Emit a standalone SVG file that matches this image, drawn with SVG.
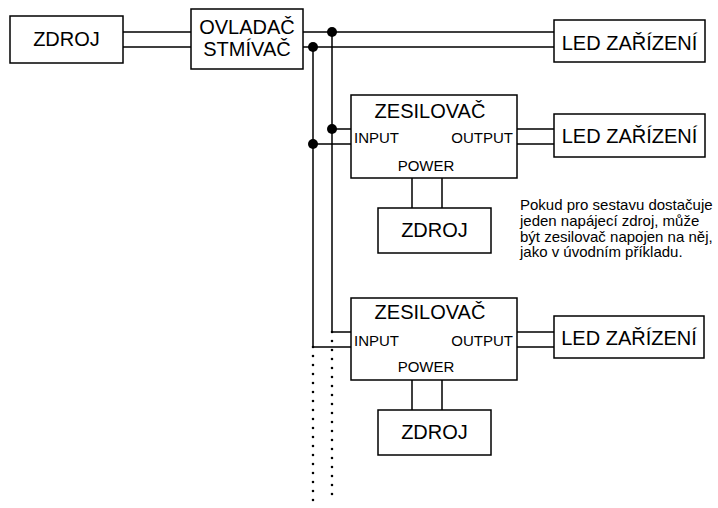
<svg xmlns="http://www.w3.org/2000/svg" width="718" height="508" viewBox="0 0 718 508">
<style>
.box{fill:#fff;stroke:#000;stroke-width:1.5}
.w{fill:none;stroke:#000;stroke-width:1.5}
.dot{fill:#000}
.dt{fill:none;stroke:#000;stroke-width:2.6;stroke-linecap:round;stroke-dasharray:0 9}
text{font-family:"Liberation Sans",Arial,sans-serif;fill:#000}
.big{font-size:20px;text-anchor:middle}
.sm{font-size:15px}
.note{font-size:15px}
</style>
<g id="connectors">
<path class="w" d="M123 32H191M123 47H191M303 32H554M303 47H554"/>
<path class="w" d="M332 32V332H351M313 47V347H351"/>
<path class="w" d="M332 129H351M313 144H351M517 129H554M517 144H554"/>
<path class="w" d="M517 332H554M517 347H554"/>
<path class="w" d="M412 178V208M442 178V208M412 380V410M442 380V410"/>
<circle class="dot" cx="332" cy="32" r="5"/>
<circle class="dot" cx="313" cy="47" r="5"/>
<circle class="dot" cx="332" cy="129" r="5"/>
<circle class="dot" cx="313" cy="144" r="5"/>
<path class="dt" d="M332 332V496M313 347V505"/>
</g>
<g id="zdroj1"><rect class="box" x="10" y="16" width="113" height="47"/><text class="big" x="66.5" y="46">ZDROJ</text></g>
<g id="ovladac"><rect class="box" x="191" y="9" width="112" height="60"/><text class="big" x="247" y="34">OVLADAČ</text><text class="big" x="247" y="56">STMÍVAČ</text></g>
<g id="led1"><rect class="box" x="554" y="20" width="151" height="42"/><text class="big" x="629.5" y="50">LED ZAŘÍZENÍ</text></g>
<g id="zesilovac1"><rect class="box" x="351" y="95" width="166" height="83"/><text class="big" x="430" y="118">ZESILOVAČ</text><text class="sm" x="354" y="143">INPUT</text><text class="sm" x="513" y="143" text-anchor="end">OUTPUT</text><text class="sm" x="426" y="171" text-anchor="middle">POWER</text></g>
<g id="led2"><rect class="box" x="554" y="114" width="151" height="43"/><text class="big" x="629.5" y="143">LED ZAŘÍZENÍ</text></g>
<g id="zdroj2"><rect class="box" x="378" y="208" width="113" height="45"/><text class="big" x="434.5" y="237">ZDROJ</text></g>
<g id="note"><text class="note" x="520"><tspan x="520" y="210">Pokud pro sestavu dostačuje</tspan><tspan x="520" y="226">jeden napájecí zdroj, může</tspan><tspan x="520" y="241.5">být zesilovač napojen na něj,</tspan><tspan x="520" y="257">jako v úvodním příkladu.</tspan></text></g>
<g id="zesilovac2"><rect class="box" x="351" y="298" width="166" height="82"/><text class="big" x="430" y="319">ZESILOVAČ</text><text class="sm" x="354" y="346">INPUT</text><text class="sm" x="513" y="346" text-anchor="end">OUTPUT</text><text class="sm" x="426" y="372" text-anchor="middle">POWER</text></g>
<g id="led3"><rect class="box" x="554" y="316" width="150" height="42"/><text class="big" x="629" y="345">LED ZAŘÍZENÍ</text></g>
<g id="zdroj3"><rect class="box" x="378" y="410" width="113" height="45"/><text class="big" x="434.5" y="439">ZDROJ</text></g>
</svg>
